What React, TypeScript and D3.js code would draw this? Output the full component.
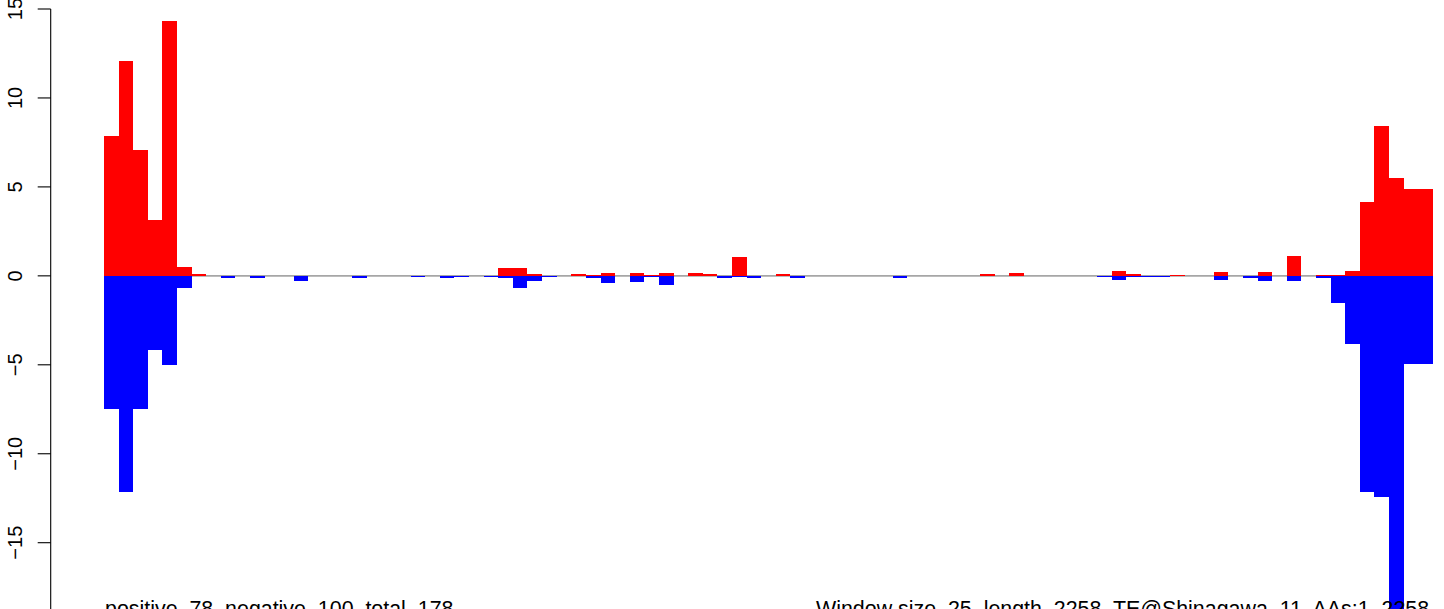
import React from "react";
import * as d3 from "d3";

const positiveValues: number[] = [
  7.86, 12.08, 7.07, 3.13, 14.32, 0.49, 0.1, 0, 0, 0,
  0, 0, 0, 0, 0, 0, 0, 0, 0, 0,
  0, 0, 0, 0, 0, 0, 0, 0.45, 0.45, 0.1,
  0, 0, 0.1, 0.04, 0.16, 0, 0.16, 0.04, 0.16, 0,
  0.16, 0.1, 0, 1.05, 0, 0, 0.1, 0, 0, 0,
  0, 0, 0, 0, 0, 0, 0, 0, 0, 0,
  0.09, 0, 0.15, 0, 0, 0, 0, 0, 0, 0.26,
  0.1, 0, 0, 0.04, 0, 0, 0.2, 0, 0, 0.2,
  0, 1.1, 0, 0.06, 0.06, 0.26, 4.14, 8.42, 5.49, 4.87,
  4.87,
];

const negativeValues: number[] = [
  -7.48, -12.15, -7.48, -4.18, -5.0, -0.67, 0, 0, -0.1, 0,
  -0.1, 0, 0, -0.3, 0, 0, 0, -0.12, 0, 0,
  0, -0.06, 0, -0.12, -0.06, 0, -0.06, -0.12, -0.71, -0.3,
  -0.06, 0, 0, -0.12, -0.42, 0, -0.37, -0.06, -0.54, 0,
  0, 0, -0.12, -0.06, -0.12, 0, 0, -0.12, 0, 0,
  0, 0, 0, 0, -0.11, 0, 0, 0, 0, 0,
  0, 0, 0, 0, 0, 0, 0, 0, -0.06, -0.22,
  -0.06, -0.06, -0.06, 0, 0, 0, -0.22, 0, -0.11, -0.28,
  0, -0.28, 0, -0.11, -1.52, -3.82, -12.15, -12.43, -19.5, -4.95,
  -4.95,
];

const yTicks: number[] = [-20, -15, -10, -5, 0, 5, 10, 15];

const leftLabel = "positive  78  negative  100  total  178";
const rightLabel = "Window size  25  length  2258  TE@Shinagawa  11  AAs:1  2258";

export default function App() {
  const W = 1444;
  const H = 609;
  const n = positiveValues.length;
  const x = d3.scaleLinear().domain([0, n]).range([104, 1432.9]);
  const y = d3.scaleLinear().domain([-15, 15]).range([542.7, 9]);
  const axisX = 50.7;
  const font = "'Liberation Sans', Arial, Helvetica, sans-serif";

  return (
    <div style={{ position: "fixed", left: 0, top: 0 }}>
      <svg width={W} height={H} style={{ display: "block", background: "#fff" }}>
        <rect x={0} y={0} width={W} height={H} fill="#fff" />
        <line x1={x(0)} x2={x(n)} y1={y(0)} y2={y(0)} stroke="#a6a6a6" strokeWidth={1.6} />
        <g shapeRendering="crispEdges">
          {positiveValues.map((v, i) =>
            v > 0 ? (
              <rect key={"p" + i} x={x(i)} width={x(i + 1) - x(i)} y={y(v)} height={y(0) - y(v)} fill="#ff0000" />
            ) : null
          )}
          {negativeValues.map((v, i) =>
            v < 0 ? (
              <rect key={"n" + i} x={x(i)} width={x(i + 1) - x(i)} y={y(0)} height={y(v) - y(0)} fill="#0000ff" />
            ) : null
          )}
        </g>
        <line x1={axisX} x2={axisX} y1={y(15)} y2={y(-20)} stroke="#000" strokeWidth={1.1} />
        {yTicks.map((t) => (
          <g key={t}>
            <line x1={axisX - 13} x2={axisX} y1={y(t)} y2={y(t)} stroke="#000" strokeWidth={1.1} />
            <text
              transform={`translate(21.5,${y(t)}) rotate(-90)`}
              textAnchor="middle"
              fontFamily={font}
              fontSize={20}
              fill="#000"
            >
              {t < 0 ? "\u2212" + Math.abs(t) : String(t)}
            </text>
          </g>
        ))}
        <text x={105} y={615.5} fontFamily={font} fontSize={21.4} fill="#000" style={{ whiteSpace: "pre" }}>
          {leftLabel}
        </text>
        <text x={816} y={615.5} fontFamily={font} fontSize={21.4} fill="#000" style={{ whiteSpace: "pre" }}>
          {rightLabel}
        </text>
      </svg>
    </div>
  );
}
